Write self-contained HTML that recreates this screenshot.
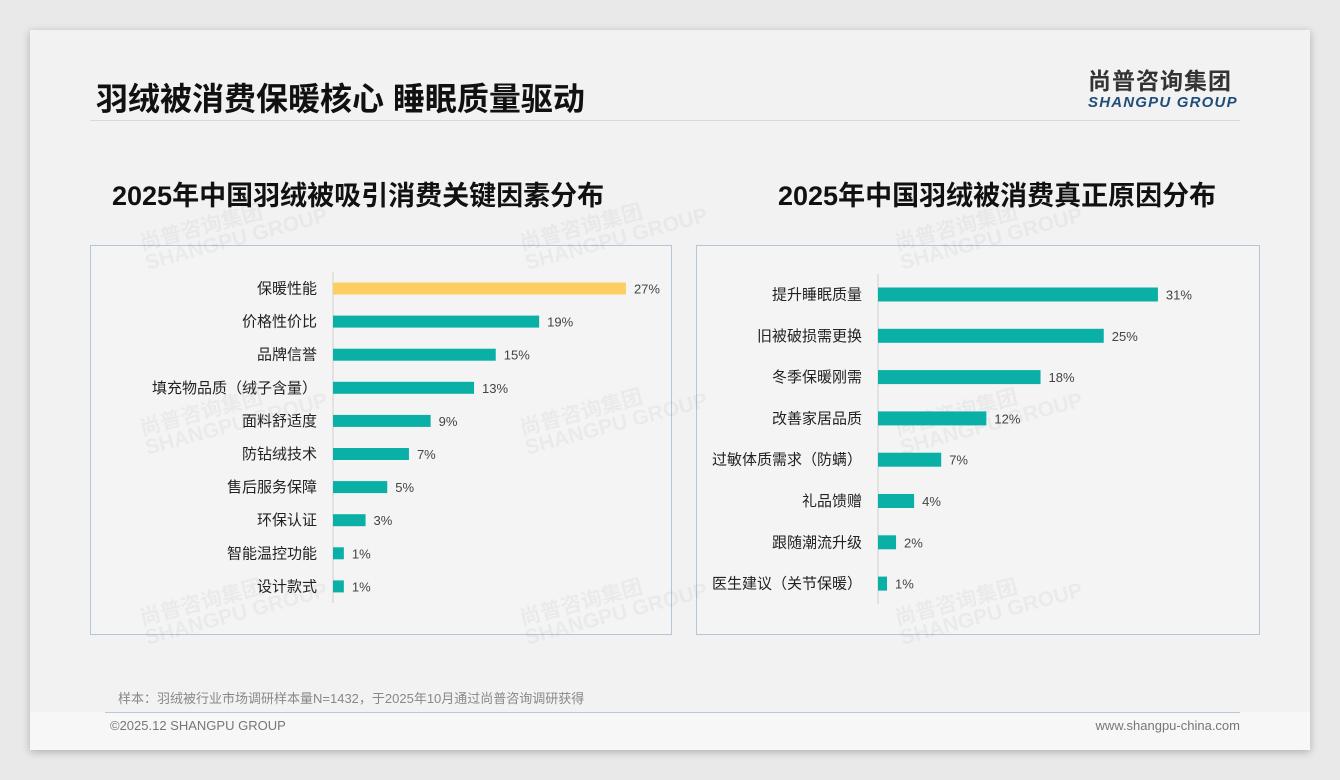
<!DOCTYPE html>
<html><head><meta charset="utf-8">
<style>
body{margin:0;width:1340px;height:780px;background:#e9e9e9;font-family:"Liberation Sans","Noto Sans CJK SC",sans-serif;position:relative;overflow:hidden}
.slide{position:absolute;left:30px;top:30px;width:1280px;height:720px;background:#f2f2f2;box-shadow:0 2px 8px rgba(0,0,0,.25)}
.abs{position:absolute}
.wm{position:absolute;color:rgba(0,0,0,.04);font-weight:bold;transform:rotate(-15deg);font-size:21px;line-height:20px;white-space:nowrap}
</style></head><body>
<div class="slide">
  <div class="abs" style="left:66px;top:44px;font-size:32px;font-weight:bold;color:#111">羽绒被消费保暖核心 睡眠质量驱动</div>
  <div class="abs" style="left:1058px;top:32px;text-align:left">
    <div style="font-size:23px;font-weight:bold;color:#333;letter-spacing:1px">尚普咨询集团</div>
    <div style="font-size:15px;font-weight:bold;font-style:italic;color:#1f4e79;letter-spacing:1.2px;margin-top:-2px">SHANGPU GROUP</div>
  </div>
  <div class="abs" style="left:60px;top:90px;width:1150px;height:1px;background:#d9d9d9"></div>
  <div class="abs" style="left:82px;top:144px;font-size:27px;font-weight:bold;color:#111">2025年中国羽绒被吸引消费关键因素分布</div>
  <div class="abs" style="left:748px;top:144px;font-size:27px;font-weight:bold;color:#111">2025年中国羽绒被消费真正原因分布</div>
  <div class="abs" style="left:60px;top:215px;width:580px;height:388px;border:1px solid #b4c6dc;background:#f4f4f4"></div>
  <div class="abs" style="left:666px;top:215px;width:562px;height:388px;border:1px solid #b4c6dc;background:#f4f4f4"></div>
  <div class="wm" style="left:110px;top:180px">尚普咨询集团<br>SHANGPU GROUP</div>
  <div class="wm" style="left:490px;top:180px">尚普咨询集团<br>SHANGPU GROUP</div>
  <div class="wm" style="left:865px;top:180px">尚普咨询集团<br>SHANGPU GROUP</div>
  <div class="wm" style="left:110px;top:365px">尚普咨询集团<br>SHANGPU GROUP</div>
  <div class="wm" style="left:490px;top:365px">尚普咨询集团<br>SHANGPU GROUP</div>
  <div class="wm" style="left:865px;top:365px">尚普咨询集团<br>SHANGPU GROUP</div>
  <div class="wm" style="left:110px;top:555px">尚普咨询集团<br>SHANGPU GROUP</div>
  <div class="wm" style="left:490px;top:555px">尚普咨询集团<br>SHANGPU GROUP</div>
  <div class="wm" style="left:865px;top:555px">尚普咨询集团<br>SHANGPU GROUP</div>
  <div class="abs" style="left:88px;top:658px;font-size:13px;color:#888">样本：羽绒被行业市场调研样本量N=1432，于2025年10月通过尚普咨询调研获得</div>
  <div class="abs" style="left:0;top:682px;width:1280px;height:38px;background:#f7f7f7"></div>
  <div class="abs" style="left:75px;top:682px;width:1135px;height:1px;background:#b8c8d8"></div>
  <div class="abs" style="left:80px;top:688px;font-size:13px;color:#777">©2025.12 SHANGPU GROUP</div>
  <div class="abs" style="right:70px;top:688px;font-size:13px;color:#777">www.shangpu-china.com</div>
</div>
<svg id="chart" width="1340" height="780" style="position:absolute;left:0;top:0"></svg>
<script>
const leftCats=["保暖性能","价格性价比","品牌信誉","填充物品质（绒子含量）","面料舒适度","防钻绒技术","售后服务保障","环保认证","智能温控功能","设计款式"];
const leftVals=[27,19,15,13,9,7,5,3,1,1];
const rightCats=["提升睡眠质量","旧被破损需更换","冬季保暖刚需","改善家居品质","过敏体质需求（防螨）","礼品馈赠","跟随潮流升级","医生建议（关节保暖）"];
const rightVals=[31,25,18,12,7,4,2,1];
const NS="http://www.w3.org/2000/svg";
const svg=document.getElementById('chart');
function mk(t,a){const e=document.createElementNS(NS,t);for(const k in a)e.setAttribute(k,a[k]);svg.appendChild(e);return e;}
function drawChart(cats,vals,o){
  const xs=v=>o.x0+v*o.ppu, ys=i=>o.y0+i*o.step;
  const ax=mk('line',{x1:o.x0,x2:o.x0,y1:o.y0-o.step/2,y2:ys(cats.length-1)+o.step/2,stroke:'#d0d0d0'});
  
  cats.forEach((c,i)=>{
    const y=ys(i);
    const lb=mk('text',{x:o.x0-16,y:y+5,'text-anchor':'end','font-size':15,fill:'#222','font-family':'Liberation Sans, Noto Sans CJK SC, sans-serif'});
    lb.textContent=c;
    
    
    const b=mk('rect',{x:o.x0,y:y-o.bh/2,width:xs(vals[i])-o.x0,height:o.bh,fill:(o.hl&&i===0)?'#fdcf63':'#0ab0a6'});
    
    
    const v=mk('text',{x:xs(vals[i])+8,y:y+5,'font-size':13,fill:'#444','font-family':'Liberation Sans, sans-serif'});
    v.textContent=vals[i]+'%';
    
    
  });
}
drawChart(leftCats,leftVals,{p:'left',x0:333,ppu:10.85,y0:288.5,step:33.1,bh:12,hl:true});
drawChart(rightCats,rightVals,{p:'right',x0:878,ppu:9.03,y0:294.5,step:41.3,bh:14,hl:false});
</script>
</body></html>
